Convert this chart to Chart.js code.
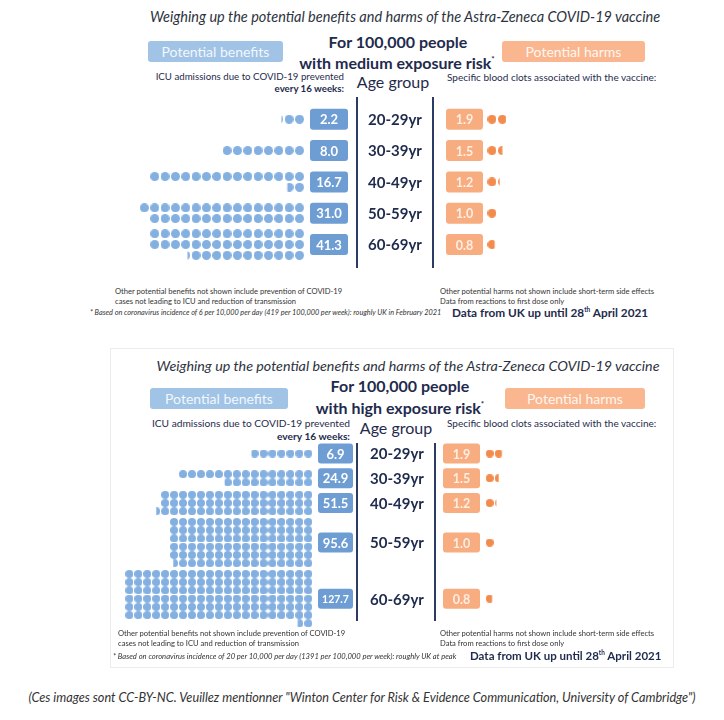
<!DOCTYPE html>
<html>
<head>
<meta charset="utf-8">
<script src="https://cdn.jsdelivr.net/npm/chart.js@4.4.1/dist/chart.umd.min.js"></script>
<style>
  body { margin: 0; background: #fff; width: 724px; height: 720px; position: relative; overflow: hidden;
         font-family: Lato, "Open Sans", sans-serif; color: #1f2b4d; }
  .t { position: absolute; white-space: nowrap; line-height: 1; }
  .c { transform: translate(-50%, -50%); }
  .r { transform: translate(-100%, -50%); }
  .l { transform: translateY(-50%); }
  .title { font-style: italic; font-size: 14.5px; color: #2d3340; }
  .big { font-weight: bold; font-size: 16px; }
  .big sup { font-size: 8px; vertical-align: 7px; }
  .tag { position: absolute; height: 21px; line-height: 21px; text-align: center; font-size: 14px;
         border-radius: 3px; color: #f2f7fc; }
  .blue { background: #a0c3e6; }
  .orange { background: #f9b68f; color: #fff6f0; }
  .small { font-size: 9.7px; }
  .tiny { font-size: 7.6px; color: #333; }
  .note { font-size: 7.6px; font-style: italic; color: #333; }
  .src { font-size: 11.8px; font-weight: bold; }
  .src sup { font-size: 6.5px; vertical-align: 5px; }
  .age { font-size: 16px; }
  canvas { position: absolute; left: 0; }
  .frame { position: absolute; left: 110px; top: 348px; width: 562px; height: 318px; border: 1px solid #ececec; }
</style>
</head>
<body>

<!-- panel 1 -->
<div class="t c title" style="left:405px;top:17px">Weighing up the potential benefits and harms of the Astra-Zeneca COVID-19 vaccine</div>
<div class="tag blue" style="left:148px;top:41px;width:135px">Potential benefits</div>
<div class="t c big" style="left:398px;top:42px">For 100,000 people</div>
<div class="t c big" style="left:397px;top:63px">with medium exposure risk<sup>*</sup></div>
<div class="tag orange" style="left:502px;top:41px;width:143px">Potential harms</div>
<div class="t r small" style="left:344px;top:77px">ICU admissions due to COVID-19 prevented</div>
<div class="t r small" style="left:344px;top:89px;font-weight:bold">every 16 weeks:</div>
<div class="t c age" style="left:393px;top:82px">Age group</div>
<div class="t l small" style="left:447px;top:77px;font-size:10px">Specific blood clots associated with the vaccine:</div>
<canvas id="medium" width="724" height="180" style="top:95px"></canvas>
<div class="t l tiny" style="left:115px;top:292px">Other potential benefits not shown include prevention of COVID-19</div>
<div class="t l tiny" style="left:115px;top:302px">cases not leading to ICU and reduction of transmission</div>
<div class="t l tiny" style="left:440px;top:292px">Other potential harms not shown include short-term side effects</div>
<div class="t l tiny" style="left:440px;top:302px">Data from reactions to first dose only</div>
<div class="t l note" style="left:90px;top:313px;font-size:7.3px">* Based on coronavirus incidence of 6 per 10,000 per day (419 per 100,000 per week): roughly UK in February 2021</div>
<div class="t l src" style="left:452px;top:313px">Data from UK up until 28<sup>th</sup> April 2021</div>

<!-- panel 2 -->
<div class="frame"></div>
<div class="t c title" style="left:408px;top:366px;font-size:14.3px">Weighing up the potential benefits and harms of the Astra-Zeneca COVID-19 vaccine</div>
<div class="tag blue" style="left:150px;top:388px;width:138px">Potential benefits</div>
<div class="t c big" style="left:400px;top:386px">For 100,000 people</div>
<div class="t c big" style="left:400px;top:408px">with high exposure risk<sup>*</sup></div>
<div class="tag orange" style="left:505px;top:388px;width:140px">Potential harms</div>
<div class="t r small" style="left:350px;top:423px;font-size:10.2px">ICU admissions due to COVID-19 prevented</div>
<div class="t r small" style="left:350px;top:436px;font-weight:bold;font-size:10.2px">every 16 weeks:</div>
<div class="t c age" style="left:396px;top:428px">Age group</div>
<div class="t l small" style="left:447px;top:423px;font-size:10px">Specific blood clots associated with the vaccine:</div>
<canvas id="high" width="724" height="192" style="top:440px"></canvas>
<div class="t l tiny" style="left:118px;top:634px">Other potential benefits not shown include prevention of COVID-19</div>
<div class="t l tiny" style="left:118px;top:644px">cases not leading to ICU and reduction of transmission</div>
<div class="t l tiny" style="left:440px;top:634px">Other potential harms not shown include short-term side effects</div>
<div class="t l tiny" style="left:440px;top:644px">Data from reactions to first dose only</div>
<div class="t l note" style="left:113px;top:657px">* Based on coronavirus incidence of 20 per 10,000 per day (1391 per 100,000 per week): roughly UK at peak</div>
<div class="t l src" style="left:470px;top:656px;font-size:11.5px">Data from UK up until 28<sup>th</sup> April 2021</div>

<div class="t c note" style="left:362px;top:697px;font-size:12.7px">(Ces images sont CC-BY-NC. Veuillez mentionner "Winton Center for Risk &amp; Evidence Communication, University of Cambridge")</div>

<script>
// values
const ageGroups = ['20-29yr', '30-39yr', '40-49yr', '50-59yr', '60-69yr'];
const benefitsMedium = [2.2, 8.0, 16.7, 31.0, 41.3];
const harmsMedium = [1.9, 1.5, 1.2, 1.0, 0.8];
const benefitsHigh = [6.9, 24.9, 51.5, 95.6, 127.7];
const harmsHigh = [1.9, 1.5, 1.2, 1.0, 0.8];

// how many dots go in one row of each pictogram
const dotsPerRowMedium = [15, 15, 15, 16, 15];
const dotsPerRowHigh = [15, 15, 17, 16, 21];

const BLUE_DOT = '#83b0e0', BLUE_BOX = '#6d9dd3';
const ORANGE_DOT = '#f28c4e', ORANGE_BOX = '#f8ad80';
const NAVY = '#1f2b4d', RULE = '#2c3b63';

const imgCache = {};
function dotImage(color, frac, keepRight, d) {
    const key = [color, frac.toFixed(2), keepRight, d].join('|');
    if (imgCache[key]) return imgCache[key];
    const c = document.createElement('canvas');
    c.width = d; c.height = d;
    const g = c.getContext('2d');
    const w = d * frac;
    g.beginPath();
    g.rect(keepRight ? d - w : 0, 0, w, d);
    g.clip();
    g.fillStyle = color;
    g.beginPath();
    g.arc(d / 2, d / 2, d / 2, 0, Math.PI * 2);
    g.fill();
    imgCache[key] = c;
    return c;
}

// dots of one pictogram: rows filled right to left, a lone fraction joins the last full row
function layoutDots(v, cols) {
    const whole = Math.floor(v + 1e-9);
    const n = Math.ceil(v - 1e-9);
    const fullRows = Math.floor(whole / cols);
    const append = fullRows > 0 && whole === fullRows * cols && v > whole;
    const dots = [];
    for (let i = 0; i < n; i++) {
        const frac = i < whole ? 1 : v - whole;
        let row = Math.floor(i / cols), col = i % cols;
        if (append && i >= whole) { row = fullRows - 1; col = cols; }
        dots.push({ row, col, frac });
    }
    const rows = append ? fullRows : Math.ceil(n / cols);
    return { dots, rows };
}

function buildPanel(id, benefits, harms, cols, L) {
    const blocks = benefits.map((v, i) => layoutDots(v, cols[i]));
    const centers = [0];
    for (let i = 1; i < blocks.length; i++) {
        const step = Math.max(L.minStep, (blocks[i - 1].rows + blocks[i].rows) / 2 + L.gap);
        centers.push(centers[i - 1] + step);
    }
    const blue = [];
    blocks.forEach((b, i) => {
        b.dots.forEach(d => blue.push({ x: -d.col, y: centers[i] - (b.rows - 1) / 2 + d.row, frac: d.frac }));
    });
    const orangeOffset = (L.orangeLeftPx - L.dotRightPx) / L.dotStep;
    const orange = [];
    harms.forEach((v, i) => {
        for (let j = 0; j < Math.ceil(v - 1e-9); j++) {
            orange.push({ x: orangeOffset + j, y: centers[i], frac: Math.min(1, v - j) });
        }
    });

    const yMin = -(L.firstCenterPx - L.top) / L.rowStep;
    const canvas = document.getElementById(id);

    const decor = {
        id: 'decor',
        afterDraw(chart) {
            const g = chart.ctx, ys = chart.scales.y;
            g.save();
            g.strokeStyle = RULE;
            g.lineWidth = 2;
            L.lineX.forEach(x => {
                g.beginPath();
                g.moveTo(x, L.lineTop - L.top);
                g.lineTo(x, L.lineBottom - L.top);
                g.stroke();
            });
            g.textAlign = 'center';
            g.textBaseline = 'middle';
            centers.forEach((c, i) => {
                const y = ys.getPixelForValue(c);
                const lb = benefits[i].toFixed(1), lh = harms[i].toFixed(1);
                g.fillStyle = BLUE_BOX;
                g.beginPath();
                g.roundRect(L.blueBoxX, y - L.boxH / 2, L.blueBoxW, L.boxH, 3);
                g.fill();
                g.fillStyle = '#ffffff';
                g.font = 'bold ' + (lb.length > 4 ? 10.5 : 13) + 'px Lato, sans-serif';
                g.fillText(lb, L.blueBoxX + L.blueBoxW / 2, y + 1);

                g.fillStyle = ORANGE_BOX;
                g.beginPath();
                g.roundRect(L.orangeBoxX, y - L.boxH / 2, L.orangeBoxW, L.boxH, 3);
                g.fill();
                g.fillStyle = '#fdeee4';
                g.font = 'bold 12.5px Lato, sans-serif';
                g.fillText(lh, L.orangeBoxX + L.orangeBoxW / 2, y + 1);

                g.fillStyle = NAVY;
                g.font = 'bold 15px Lato, sans-serif';
                g.fillText(ageGroups[i], L.ageX, y + 1);
            });
            g.restore();
        }
    };

    return new Chart(canvas, {
        type: 'scatter',
        data: {
            datasets: [
                {
                    label: 'ICU admissions prevented',
                    data: blue,
                    pointStyle: ctx => dotImage(BLUE_DOT, ctx.raw ? ctx.raw.frac : 1, true, L.dotD),
                    pointRadius: L.dotD / 2,
                },
                {
                    label: 'Specific blood clots',
                    data: orange,
                    pointStyle: ctx => dotImage(ORANGE_DOT, ctx.raw ? ctx.raw.frac : 1, false, L.dotD),
                    pointRadius: L.dotD / 2,
                },
            ],
        },
        options: {
            responsive: false,
            animation: false,
            layout: { padding: 0 },
            plugins: { legend: { display: false }, tooltip: { enabled: false } },
            scales: {
                x: {
                    type: 'linear', display: false,
                    min: -L.dotRightPx / L.dotStep,
                    max: (724 - L.dotRightPx) / L.dotStep,
                },
                y: {
                    type: 'linear', display: false, reverse: true,
                    min: yMin,
                    max: yMin + canvas.height / L.rowStep,
                },
            },
        },
        plugins: [decor],
    });
}

buildPanel('medium', benefitsMedium, harmsMedium, dotsPerRowMedium, {
    top: 95, firstCenterPx: 115, rowStep: 11.5, dotStep: 10.5, dotD: 9,
    dotRightPx: 298.5, orangeLeftPx: 494, minStep: 2.9, gap: 0.3,
    blueBoxX: 310, blueBoxW: 38, orangeBoxX: 446, orangeBoxW: 37, boxH: 21,
    ageX: 395, lineX: [357, 433], lineTop: 97, lineBottom: 268,
});

buildPanel('high', benefitsHigh, harmsHigh, dotsPerRowHigh, {
    top: 440, firstCenterPx: 449, rowStep: 8.7, dotStep: 9.07, dotD: 8,
    dotRightPx: 307.5, orangeLeftPx: 491.5, minStep: 3.0, gap: 0.3,
    blueBoxX: 318, blueBoxW: 35, orangeBoxX: 443, orangeBoxW: 37, boxH: 20,
    ageX: 397, lineX: [357, 435], lineTop: 443, lineBottom: 621,
});
</script>
</body>
</html>
